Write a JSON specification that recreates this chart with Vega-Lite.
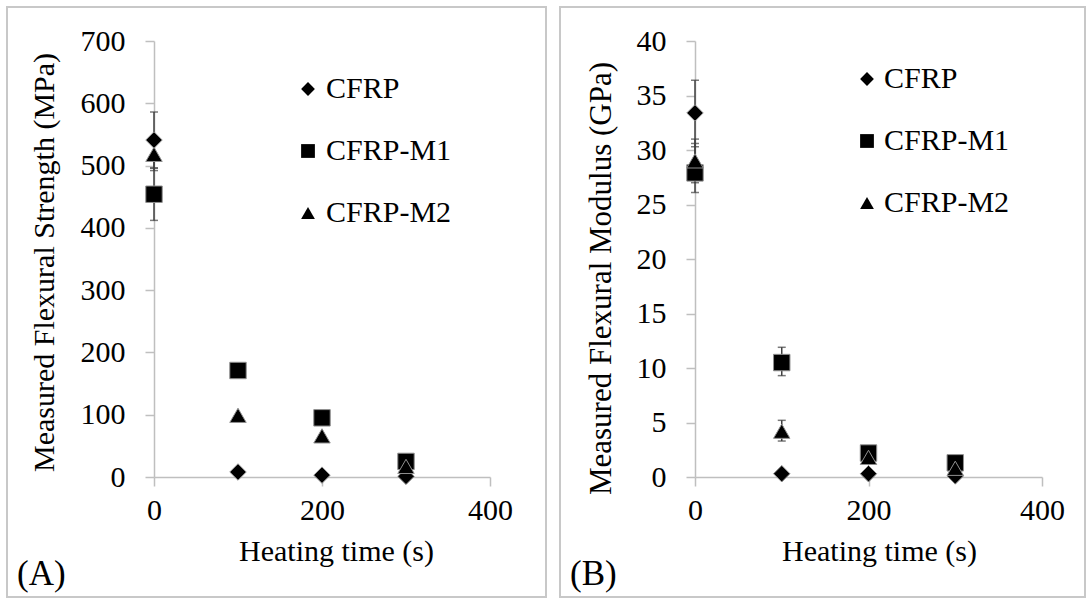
{
  "$schema": "https://vega.github.io/schema/vega-lite/v6.json",
  "padding": {"left": 6, "top": 6, "right": 0, "bottom": 0},
  "background": "white",
  "spacing": 12,
  "datasets": {
    "strength": [
      {"t": 0, "s": "CFRP", "v": 541, "lo": 496, "hi": 586},
      {"t": 100, "s": "CFRP", "v": 8},
      {"t": 200, "s": "CFRP", "v": 3},
      {"t": 300, "s": "CFRP", "v": 1},
      {"t": 0, "s": "CFRP-M1", "v": 454, "lo": 412, "hi": 496},
      {"t": 100, "s": "CFRP-M1", "v": 171, "lo": 164, "hi": 178},
      {"t": 200, "s": "CFRP-M1", "v": 95},
      {"t": 300, "s": "CFRP-M1", "v": 25},
      {"t": 0, "s": "CFRP-M2", "v": 518, "lo": 492, "hi": 544},
      {"t": 100, "s": "CFRP-M2", "v": 99},
      {"t": 200, "s": "CFRP-M2", "v": 66},
      {"t": 300, "s": "CFRP-M2", "v": 17}
    ],
    "modulus": [
      {"t": 0, "s": "CFRP", "v": 33.4, "lo": 30.3, "hi": 36.4},
      {"t": 100, "s": "CFRP", "v": 0.3},
      {"t": 200, "s": "CFRP", "v": 0.3},
      {"t": 300, "s": "CFRP", "v": 0.1},
      {"t": 0, "s": "CFRP-M1", "v": 27.9, "lo": 26.1, "hi": 30.6},
      {"t": 100, "s": "CFRP-M1", "v": 10.5, "lo": 9.3, "hi": 11.9},
      {"t": 200, "s": "CFRP-M1", "v": 2.2},
      {"t": 300, "s": "CFRP-M1", "v": 1.3},
      {"t": 0, "s": "CFRP-M2", "v": 29.0, "lo": 27.0, "hi": 31.0},
      {"t": 100, "s": "CFRP-M2", "v": 4.2, "lo": 3.3, "hi": 5.2},
      {"t": 200, "s": "CFRP-M2", "v": 1.8},
      {"t": 300, "s": "CFRP-M2", "v": 0.8}
    ]
  },
  "hconcat": [
    {
      "width": 539,
      "height": 590,
      "title": {"text": "(A)", "orient": "bottom", "anchor": "start", "frame": "group", "offset": -40, "dx": 10, "fontSize": 35, "font": "Liberation Serif", "fontWeight": "normal", "color": "black"},
      "data": {"name": "strength"},
      "encoding": {
        "x": {"field": "t", "type": "quantitative", "scale": {"domain": [0, 400], "range": [147, 483], "nice": false},
          "axis": {"title": "Heating time (s)", "values": [0, 200, 400], "offset": -120, "titleX": 329, "titleY": 83, "titleBaseline": "alphabetic"}}
      },
      "layer": [
        {
          "transform": [{"filter": "datum.lo != null"}],
          "mark": {"type": "errorbar", "ticks": {"size": 8}, "color": "#404040", "thickness": 1.5},
          "encoding": {
            "y": {"field": "lo", "type": "quantitative", "scale": {"domain": [0, 700], "range": [470, 34], "nice": false},
              "axis": {"title": "Measured Flexural Strength (MPa)", "values": [0, 100, 200, 300, 400, 500, 600, 700], "offset": -147, "titleX": -101, "titleY": 255, "titleBaseline": "alphabetic", "titleAlign": "center", "titleAngle": 270}},
            "y2": {"field": "hi"}
          }
        },
        {
          "mark": {"type": "point", "filled": true, "color": "black", "stroke": "#909090", "strokeWidth": 1, "size": 270, "opacity": 1},
          "encoding": {
            "y": {"field": "v", "type": "quantitative", "scale": {"domain": [0, 700], "range": [470, 34], "nice": false},
              "axis": {"title": "Measured Flexural Strength (MPa)", "values": [0, 100, 200, 300, 400, 500, 600, 700], "offset": -147, "titleX": -101, "titleY": 255, "titleBaseline": "alphabetic", "titleAlign": "center", "titleAngle": 270}},
            "shape": {"field": "s", "type": "nominal", "scale": {"domain": ["CFRP", "CFRP-M1", "CFRP-M2"], "range": ["diamond", "square", "triangle-up"]},
              "legend": {"orient": "none", "legendX": 286, "legendY": 67, "title": null, "padding": 0, "labelOffset": 3}}
          }
        }
      ]
    },
    {
      "width": 525,
      "height": 590,
      "title": {"text": "(B)", "orient": "bottom", "anchor": "start", "frame": "group", "offset": -40, "dx": 10, "fontSize": 35, "font": "Liberation Serif", "fontWeight": "normal", "color": "black"},
      "data": {"name": "modulus"},
      "encoding": {
        "x": {"field": "t", "type": "quantitative", "scale": {"domain": [0, 400], "range": [135, 482], "nice": false},
          "axis": {"title": "Heating time (s)", "values": [0, 200, 400], "offset": -120, "titleX": 319, "titleY": 83, "titleBaseline": "alphabetic"}}
      },
      "layer": [
        {
          "transform": [{"filter": "datum.lo != null"}],
          "mark": {"type": "errorbar", "ticks": {"size": 8}, "color": "#404040", "thickness": 1.5},
          "encoding": {
            "y": {"field": "lo", "type": "quantitative", "scale": {"domain": [0, 40], "range": [470, 34], "nice": false},
              "axis": {"title": "Measured Flexural Modulus (GPa)", "values": [0, 5, 10, 15, 20, 25, 30, 35, 40], "offset": -135, "titleX": -85, "titleY": 271, "titleBaseline": "alphabetic", "titleAlign": "center", "titleAngle": 270, "titleFontSize": 31}},
            "y2": {"field": "hi"}
          }
        },
        {
          "mark": {"type": "point", "filled": true, "color": "black", "stroke": "#909090", "strokeWidth": 1, "size": 270, "opacity": 1},
          "encoding": {
            "y": {"field": "v", "type": "quantitative", "scale": {"domain": [0, 40], "range": [470, 34], "nice": false},
              "axis": {"title": "Measured Flexural Modulus (GPa)", "values": [0, 5, 10, 15, 20, 25, 30, 35, 40], "offset": -135, "titleX": -85, "titleY": 271, "titleBaseline": "alphabetic", "titleAlign": "center", "titleAngle": 270, "titleFontSize": 31}},
            "shape": {"field": "s", "type": "nominal", "scale": {"domain": ["CFRP", "CFRP-M1", "CFRP-M2"], "range": ["diamond", "square", "triangle-up"]},
              "legend": {"orient": "none", "legendX": 292, "legendY": 57, "title": null, "padding": 0, "labelOffset": 2}}
          }
        }
      ]
    }
  ],
  "resolve": {"scale": {"shape": "independent", "x": "independent", "y": "independent"}, "legend": {"shape": "independent"}},
  "config": {
    "view": {"stroke": "#c8c8c8", "strokeWidth": 2},
    "axis": {
      "grid": false,
      "labelFont": "Liberation Serif", "labelFontSize": 30, "labelColor": "black",
      "titleFont": "Liberation Serif", "titleFontSize": 30, "titleFontWeight": "normal", "titleColor": "black",
      "domainColor": "#bfbfbf", "domainWidth": 1.5, "tickColor": "#bfbfbf", "tickWidth": 1.5, "tickSize": 9,
      "labelFlush": false
    },
    "axisY": {"labelPadding": 20},
    "axisX": {"labelPadding": 9},
    "legend": {
      "labelFont": "Liberation Serif", "labelFontSize": 30, "labelColor": "black",
      "symbolSize": 190, "symbolFillColor": "black", "symbolStrokeColor": "#909090", "symbolStrokeWidth": 1,
      "rowPadding": 32
    }
  }
}
